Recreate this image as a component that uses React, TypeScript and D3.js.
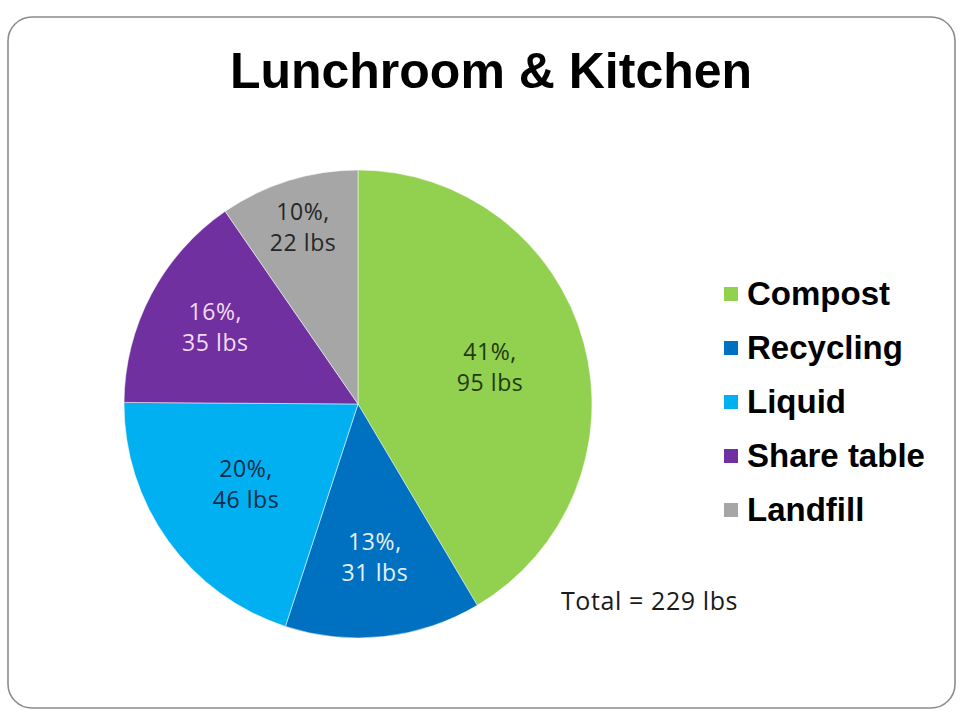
import { useMemo } from "react";
import { arc, pie, PieArcDatum } from "d3";

const WIDTH = 965;
const HEIGHT = 721;

const categories = ["Compost", "Recycling", "Liquid", "Share table", "Landfill"];
const pounds = [95, 31, 46, 35, 22];
const percentLabels = ["41%", "13%", "20%", "16%", "10%"];
const totalLabel = "Total = 229 lbs";

const SLICE_COLORS = ["#92d050", "#0070c0", "#00b0f0", "#7030a0", "#a6a6a6"];
const LABEL_COLORS = ["#1e3a0c", "#e4f1fb", "#0c2b48", "#f3dcf3", "#262626"];
// Excel "best fit" pushes the labels of thin slices outward
const LABEL_RADIUS = [0.585, 0.66, 0.59, 0.69, 0.79];

const CX = 358;
const CY = 404;
const R = 234;

type Slice = { name: string; value: number; pct: string };

export default function App() {
  const slices: Slice[] = categories.map((name, i) => ({ name, value: pounds[i], pct: percentLabels[i] }));
  const arcs = useMemo(() => pie<Slice>().sort(null).value((d) => d.value)(slices), []);
  const slicePath = arc<PieArcDatum<Slice>>().innerRadius(0).outerRadius(R);

  return (
    <svg width={WIDTH} height={HEIGHT} style={{ position: "absolute", left: 0, top: 0, background: "#fff" }}>
      <rect x={8} y={17} width={947} height={691} rx={24} fill="#fff" stroke="#8c8c8c" strokeWidth={1.6} />
      <text
        x={491}
        y={88}
        textAnchor="middle"
        fontFamily="Liberation Sans, Arial, sans-serif"
        fontWeight="bold"
        fontSize={50}
        fill="#000"
      >
        Lunchroom &amp; Kitchen
      </text>
      <g transform={`translate(${CX},${CY})`}>
        {arcs.map((d, i) => (
          <path key={d.data.name} d={slicePath(d) ?? ""} fill={SLICE_COLORS[i]} stroke="#fff" strokeOpacity={0.5} strokeWidth={1} />
        ))}
        {arcs.map((d, i) => {
          const lr = R * LABEL_RADIUS[i];
          const [x, y] = arc<PieArcDatum<Slice>>().innerRadius(lr).outerRadius(lr).centroid(d);
          return (
            <text
              key={d.data.name}
              x={x}
              y={y}
              textAnchor="middle"
              fontFamily="'Open Sans', Lato, sans-serif"
              fontSize={23}
              letterSpacing={0.6}
              fill={LABEL_COLORS[i]}
            >
              <tspan x={x} dy={-8}>{`${d.data.pct},`}</tspan>
              <tspan x={x} dy={31}>{`${d.data.value} lbs`}</tspan>
            </text>
          );
        })}
      </g>
      <g transform="translate(724,294)">
        {categories.map((name, i) => (
          <g key={name} transform={`translate(0,${i * 54})`}>
            <rect x={0} y={-7} width={14} height={14} fill={SLICE_COLORS[i]} />
            <text
              x={23}
              y={11}
              fontFamily="Liberation Sans, Arial, sans-serif"
              fontWeight="bold"
              fontSize={33}
              fill="#000"
            >
              {name}
            </text>
          </g>
        ))}
      </g>
      <text x={561} y={610} fontFamily="'Open Sans', Lato, sans-serif" fontSize={25} letterSpacing={0.6} fill="#1a1a1a">
        {totalLabel}
      </text>
    </svg>
  );
}
